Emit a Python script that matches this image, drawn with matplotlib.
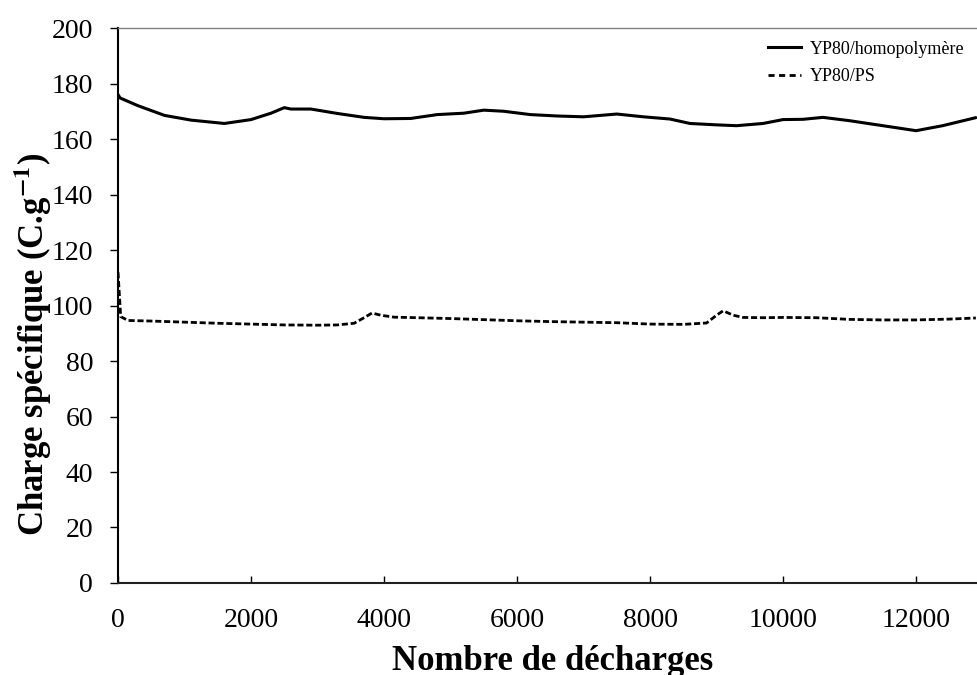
import matplotlib
matplotlib.use("Agg")
import matplotlib.pyplot as plt
from matplotlib.lines import Line2D

plt.rcParams['font.family'] = ['Liberation Serif', 'DejaVu Serif']
plt.rcParams['mathtext.fontset'] = 'stix'

# valeurs
x_homo = [0, 30, 300, 700, 1100, 1600, 2000, 2300, 2500, 2600, 2900, 3300, 3700, 4000,
          4400, 4800, 5200, 5500, 5800, 6200, 6600, 7000, 7500, 7900, 8300, 8600, 9000,
          9300, 9700, 10000, 10300, 10600, 11000, 11500, 12000, 12400, 12900]
y_homo = [176, 174.8, 172, 168.5, 166.8, 165.6, 167, 169.3, 171.3, 170.8, 170.8, 169.2,
          167.8, 167.3, 167.4, 168.8, 169.3, 170.4, 170, 168.8, 168.3, 168, 169, 168,
          167.2, 165.6, 165.1, 164.8, 165.6, 167, 167.1, 167.8, 166.6, 164.8, 163,
          164.8, 167.7]

x_ps = [0, 40, 150, 500, 1000, 1500, 2000, 2500, 3000, 3300, 3550, 3700, 3820, 3950,
        4150, 4500, 5000, 5500, 6000, 6500, 7000, 7500, 8000, 8500, 8850, 9000, 9100,
        9250, 9400, 9700, 10000, 10500, 11000, 11500, 12000, 12500, 12900]
y_ps = [112, 96, 94.6, 94.4, 94, 93.6, 93.3, 93, 92.9, 93, 93.6, 95.6, 97.3, 96.5, 95.8,
        95.6, 95.3, 94.9, 94.5, 94.2, 94, 93.8, 93.3, 93.2, 93.7, 96.5, 98.1, 96.5, 95.7,
        95.6, 95.7, 95.6, 95, 94.8, 94.8, 95.1, 95.5]

labels = ['YP80/homopolymère', 'YP80/PS']
x_ticks = [0, 2000, 4000, 6000, 8000, 10000, 12000]
y_ticks = [0, 20, 40, 60, 80, 100, 120, 140, 160, 180, 200]

fig = plt.figure(figsize=(9.77, 6.75), dpi=100)
ax = fig.add_axes([0.1208, 0.1363, 0.8792, 0.8222])

ax.plot(x_homo, y_homo, color='black', lw=2.2, solid_capstyle='round')
ax.plot(x_ps, y_ps, color='black', lw=2.0, dashes=(2.2, 1.0))

ax.set_xlim(0, 12917)
ax.set_ylim(0, 200)
ax.set_xticks(x_ticks)
ax.set_yticks(y_ticks)
ax.tick_params(axis='y', direction='out', length=6, width=1, labelsize=20, pad=12)
ax.tick_params(axis='x', direction='in', length=5, width=1, labelsize=20, pad=18)

ax.spines['right'].set_visible(False)
ax.spines['top'].set_color('#808080')
ax.spines['top'].set_linewidth(1.0)
ax.spines['left'].set_linewidth(1.5)
ax.spines['bottom'].set_linewidth(1.5)
ax.spines['bottom'].set_color('#202020')

ax.set_xlabel('Nombre de décharges', fontsize=25, fontweight='bold')
ax.xaxis.set_label_coords(0.506, -0.112)
ax.set_ylabel('Charge spécifique (C.g$^{\\mathbf{-1}}$)', fontsize=25, fontweight='bold')
ax.yaxis.set_label_coords(-0.075, 0.43)

handles = [Line2D([0], [0], color='black', lw=2.2),
           Line2D([0], [0], color='black', lw=2.0, dashes=(2.2, 1.6))]
ax.legend(handles, labels, loc='upper right', frameon=False, fontsize=13,
          handlelength=1.8, handletextpad=0.5, labelspacing=0.6,
          bbox_to_anchor=(1.0, 1.0), borderaxespad=0.3)

fig.savefig('out.png', dpi=100)
